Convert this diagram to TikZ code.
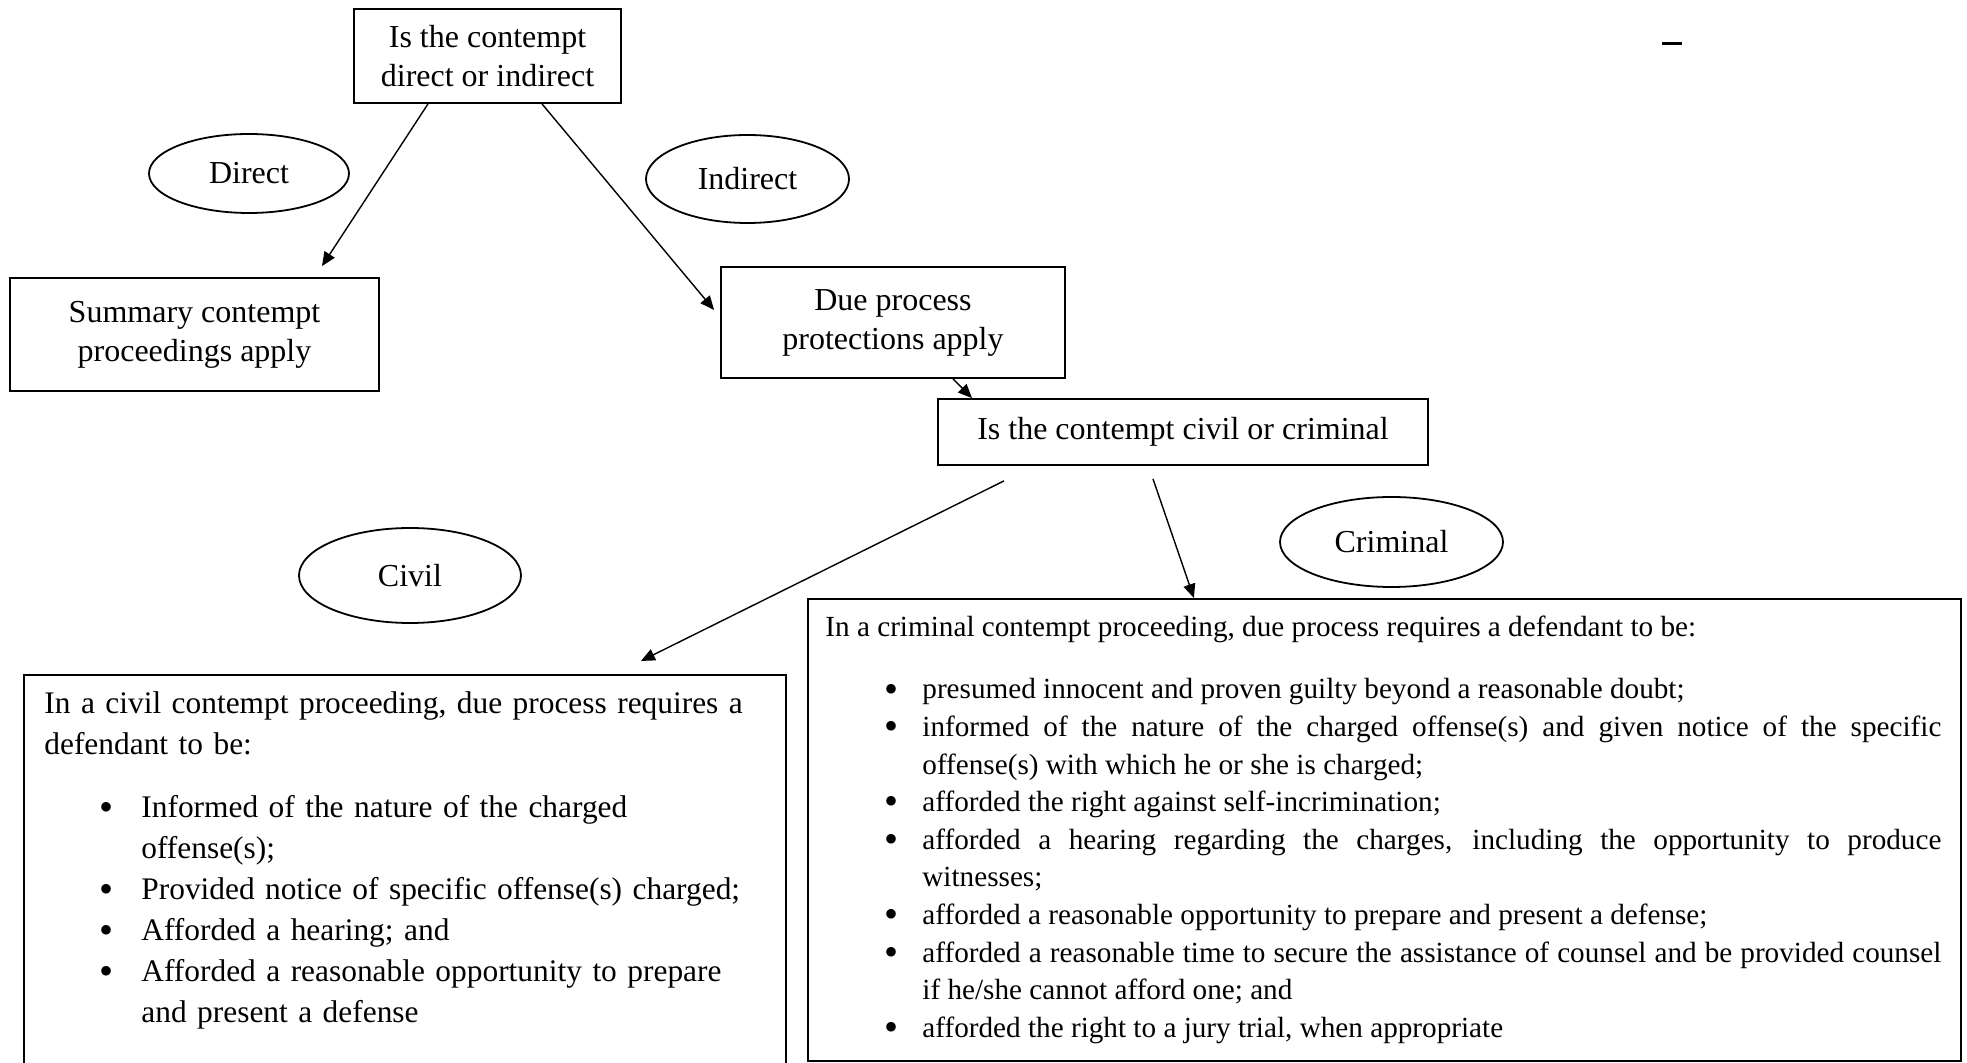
\documentclass[tikz,border=0pt]{standalone}
\usepackage{fontspec}
\setmainfont{Liberation Serif}
\usetikzlibrary{arrows.meta,shapes.geometric}

\newcommand{\bigfont}{\fontsize{16pt}{19.5pt}\selectfont}
\newcommand{\civfont}{\fontsize{15.7pt}{20.5pt}\selectfont}
\newcommand{\crimfont}{\fontsize{14.6pt}{18.8pt}\selectfont}
\newcommand{\bigdot}{\raisebox{-1.6pt}{\fontsize{20pt}{0pt}\selectfont\textbullet}}
\newcommand{\bitem}[2]{\par\leftskip=48.5pt\noindent\llap{\makebox[#1][l]{\bigdot}}#2\par}

\begin{document}
\begin{tikzpicture}[x=0.5pt,y=-0.5pt,
	box/.style={draw,line width=0.9pt,inner sep=0pt,align=center,font=\bigfont},
	oval/.style={draw,ellipse,line width=0.9pt,inner sep=0pt,font=\bigfont},
	txt/.style={inner sep=0pt,anchor=north west}]
		\useasboundingbox (0,0) rectangle (1967,1063);
		%
		\node[box,minimum width=133.5pt,minimum height=47pt] (q1) at (487.5,56) {Is the contempt\\direct or indirect};
		\node[oval,minimum width=100pt,minimum height=39.5pt] (direct) at (249,173.5) {Direct};
		\node[oval,minimum width=101.5pt,minimum height=44pt] (indirect) at (747.5,179) {Indirect};
		\node[box,minimum width=184.5pt,minimum height=56.5pt] (summary) at (194.5,334.5) {Summary contempt\\proceedings apply};
		\node[box,minimum width=172pt,minimum height=55.5pt] (due) at (893,322.5) {Due process\\protections apply};
		\node[box,minimum width=245pt,minimum height=33pt] (q2) at (1183,432) {Is the contempt civil or criminal};
		\node[oval,minimum width=111pt,minimum height=47.5pt] (civil) at (410,575.5) {Civil};
		\node[oval,minimum width=111.5pt,minimum height=45pt] (criminal) at (1391.5,542) {Criminal};
		\node[box,anchor=north west,minimum width=381pt,minimum height=200.5pt] (civbox) at (23,674) {};
		\node[box,anchor=north west,minimum width=576.5pt,minimum height=231pt] (crimbox) at (807,598) {};
		%
		\node[txt,text width=370pt,align=left,font=\civfont] (civtext) at ([xshift=10.5pt,yshift=-8.5pt]civbox.north west)
		{In a civil contempt proceeding, due process requires a\newline defendant to be:\par\vspace{11pt}
		\bitem{21pt}{Informed of the nature of the charged\newline offense(s);}
		\bitem{21pt}{Provided notice of specific offense(s) charged;}
		\bitem{21pt}{Afforded a hearing; and}
		\bitem{21pt}{Afforded a reasonable opportunity to prepare\newline and present a defense}};
		\node[txt,text width=558pt,align=justify,font=\crimfont] (crimtext) at ([xshift=9pt,yshift=-9pt]crimbox.north west)
		{In a criminal contempt proceeding, due process requires a defendant to be:\par\vspace{12.2pt}
		\bitem{19pt}{presumed innocent and proven guilty beyond a reasonable doubt;}
		\bitem{19pt}{informed of the nature of the charged offense(s) and given notice of the specific\linebreak offense(s) with which he or she is charged;}
		\bitem{19pt}{afforded the right against self-incrimination;}
		\bitem{19pt}{afforded a hearing regarding the charges, including the opportunity to produce\linebreak witnesses;}
		\bitem{19pt}{afforded a reasonable opportunity to prepare and present a defense;}
		\bitem{19pt}{afforded a reasonable time to secure the assistance of counsel and be provided counsel\linebreak if he/she cannot afford one; and}
		\bitem{19pt}{afforded the right to a jury trial, when appropriate}};
		%
		\path[->,line width=0.7pt,>={Triangle[length=7pt,width=6pt]}]
		([xshift=-29.75pt]q1.south) edge ([xshift=63.75pt,yshift=5.5pt]summary.north)
		([xshift=27.25pt]q1.south) edge ([xshift=-3pt,yshift=6.25pt]due.west)
		([xshift=30pt]due.south) edge ([xshift=-105.5pt]q2.north)
		([xshift=-89.5pt,yshift=-7.5pt]q2.south) edge ([xshift=118pt,yshift=6.5pt]civbox.north)
		([xshift=-15pt,yshift=-6.5pt]q2.south) edge ([xshift=-95.25pt]crimbox.north);
		%
		\draw[line width=1.5pt] (1662,44) -- (1682,44);
\end{tikzpicture}
\end{document}
